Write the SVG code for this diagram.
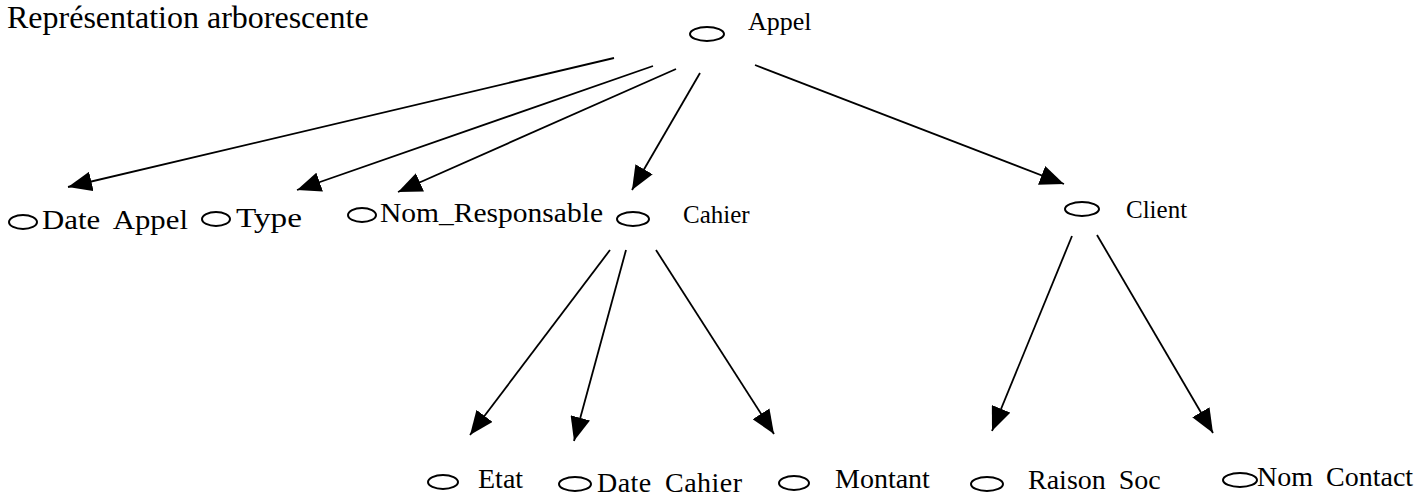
<svg xmlns="http://www.w3.org/2000/svg" width="1417" height="496" viewBox="0 0 1417 496">
<style>
text{font-family:"Liberation Serif","Times New Roman",serif;fill:#000}
.t{font-size:32px}
.l{font-size:28px;word-spacing:6px}
.s{font-size:25px}
.a{font-size:26px}
ellipse{fill:#fff;stroke:#000;stroke-width:2}
.c line{stroke:#000;stroke-width:1.8;marker-end:url(#ah)}
</style>
<defs>
<marker id="ah" markerUnits="userSpaceOnUse" markerWidth="26" markerHeight="20" refX="24" refY="10" orient="auto">
<path d="M0,0 L24,10 L0,20 z" fill="#000"/>
</marker>
</defs>
<rect width="1417" height="496" fill="#fff"/>
<text class="t" x="7" y="28">Représentation arborescente</text>
<g class="c" id="connectors">
<line x1="614" y1="58" x2="68" y2="187"/>
<line x1="653" y1="66" x2="297" y2="190"/>
<line x1="676" y1="69" x2="398" y2="192"/>
<line x1="700" y1="73" x2="632" y2="190"/>
<line x1="755" y1="65" x2="1064" y2="184"/>
<line x1="610" y1="250" x2="470" y2="435"/>
<line x1="626" y1="250" x2="574" y2="441"/>
<line x1="656" y1="250" x2="774" y2="434"/>
<line x1="1072" y1="236" x2="992" y2="431"/>
<line x1="1097" y1="235" x2="1213" y2="433"/>
</g>
<g id="appel"><ellipse cx="707" cy="34" rx="17" ry="7"/><text class="l a" x="748" y="30">Appel</text></g>
<g id="date-appel"><ellipse cx="23" cy="222" rx="14" ry="7"/><text class="l" x="42" y="229" textLength="146" lengthAdjust="spacingAndGlyphs">Date Appel</text></g>
<g id="type"><ellipse cx="216" cy="219" rx="14" ry="7"/><text class="l" x="236" y="227" textLength="66" lengthAdjust="spacingAndGlyphs">Type</text></g>
<g id="nom-responsable"><ellipse cx="362" cy="215" rx="14" ry="7"/><text class="l" x="380" y="222" textLength="223" lengthAdjust="spacingAndGlyphs">Nom_Responsable</text></g>
<g id="cahier"><ellipse cx="633" cy="219" rx="16" ry="7"/><text class="l s" x="683" y="223">Cahier</text></g>
<g id="client"><ellipse cx="1082" cy="209" rx="17" ry="7"/><text class="l s" x="1126" y="218">Client</text></g>
<g id="etat"><ellipse cx="443" cy="482" rx="15" ry="7"/><text class="l" x="478" y="488">Etat</text></g>
<g id="date-cahier"><ellipse cx="575" cy="484" rx="16" ry="7"/><text class="l" x="597" y="492" textLength="145" lengthAdjust="spacing">Date Cahier</text></g>
<g id="montant"><ellipse cx="794" cy="483" rx="15" ry="7"/><text class="l" x="835" y="488">Montant</text></g>
<g id="raison-soc"><ellipse cx="987" cy="484" rx="16" ry="7"/><text class="l" x="1028" y="489">Raison Soc</text></g>
<g id="nom-contact"><ellipse cx="1240" cy="480" rx="17" ry="7"/><text class="l" x="1257" y="486">Nom Contact</text></g>
</svg>
